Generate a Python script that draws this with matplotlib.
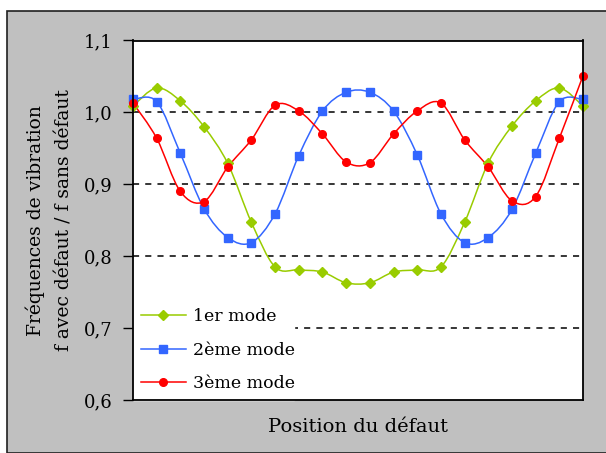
import numpy as np
import matplotlib
matplotlib.use("Agg")
import matplotlib.pyplot as plt
from matplotlib.path import Path
from matplotlib.patches import PathPatch, Rectangle
from matplotlib.lines import Line2D

plt.rcParams['font.family'] = ['DejaVu Serif']

# values (20 positions along the beam)
mode1 = [1.009, 1.034, 1.016, 0.980, 0.929, 0.847, 0.785, 0.781, 0.778, 0.763,
         0.763, 0.778, 0.781, 0.785, 0.847, 0.930, 0.981, 1.016, 1.034, 1.009]
mode2 = [1.018, 1.015, 0.943, 0.866, 0.826, 0.819, 0.859, 0.940, 1.002, 1.028,
         1.028, 1.002, 0.941, 0.859, 0.819, 0.826, 0.865, 0.943, 1.015, 1.018]
mode3 = [1.013, 0.964, 0.890, 0.876, 0.924, 0.962, 1.010, 1.002, 0.970, 0.931,
         0.930, 0.970, 1.002, 1.013, 0.962, 0.924, 0.877, 0.883, 0.964, 1.051]
labels = ['1er mode', '2ème mode', '3ème mode']
colors = ['#99CC00', '#3366FF', '#FF0000']
markers = ['D', 's', 'o']
msizes = [5, 6, 5.5]
yticks = [0.6, 0.7, 0.8, 0.9, 1.0, 1.1]


def smooth_path(x, y):
    # Excel-like smoothed line: cubic bezier through every point
    p = np.column_stack([x, y])
    n = len(p)
    verts = [p[0]]
    codes = [Path.MOVETO]
    for i in range(n - 1):
        p0 = p[max(i - 1, 0)]
        p1 = p[i]
        p2 = p[i + 1]
        p3 = p[min(i + 2, n - 1)]
        verts += [p1 + (p2 - p0) / 6, p2 - (p3 - p1) / 6, p2]
        codes += [Path.CURVE4] * 3
    return Path(verts, codes)


fig = plt.figure(figsize=(6.06, 4.53), dpi=100)
fig.patch.set_facecolor('white')
fig.patches.append(Rectangle((7 / 606, 0.5 / 453), 1.0, (442 - 0.5) / 453,
                             transform=fig.transFigure, facecolor='#C0C0C0',
                             edgecolor='#202020', linewidth=1.2, zorder=-5))

ax = fig.add_axes([133 / 606, 53 / 453, 450 / 606, 359.5 / 453])
ax.set_facecolor('white')

x = np.arange(len(mode1))
handles = []
for vals, c, m, ms, lab in zip([mode1, mode2, mode3], colors, markers, msizes, labels):
    ax.add_patch(PathPatch(smooth_path(x, np.array(vals)), facecolor='none',
                           edgecolor=c, linewidth=1.1, zorder=3, clip_on=False))
    ax.plot(x, vals, linestyle='none', marker=m, markersize=ms, color=c,
            zorder=4, clip_on=False)
    handles.append(Line2D([], [], color=c, marker=m, markersize=ms,
                          linewidth=1.1, label=lab))

for yv in yticks[1:-1]:
    ax.axhline(yv, color='black', linestyle=(0, (4, 4)), linewidth=1.1, zorder=1)

ax.set_xlim(0, len(mode1) - 1)
ax.set_ylim(0.6, 1.1)
ax.set_xticks([])
ax.set_yticks(yticks)
ax.set_yticklabels([('%.1f' % v).replace('.', ',') for v in yticks], fontsize=13)
ax.tick_params(axis='y', direction='out', length=7, width=1, pad=8)
for s in ax.spines.values():
    s.set_linewidth(1.3)
    s.set_zorder(6)

ax.set_ylabel('Fréquences de vibration\nf avec défaut / f sans défaut',
              fontsize=13.5, linespacing=1.75, labelpad=7)
ax.set_xlabel('Position du défaut', fontsize=14, labelpad=13)

leg = ax.legend(handles=handles, loc='lower left', fontsize=12.5, frameon=True,
                fancybox=False, edgecolor='white', facecolor='white', framealpha=1,
                handlelength=2.6, labelspacing=0.95, borderaxespad=0.0,
                borderpad=0.45, handletextpad=0.4,
                bbox_to_anchor=(0, 0, 0.358, 0.3), mode='expand')
leg.set_zorder(5)

fig.savefig('out.png', dpi=100)
